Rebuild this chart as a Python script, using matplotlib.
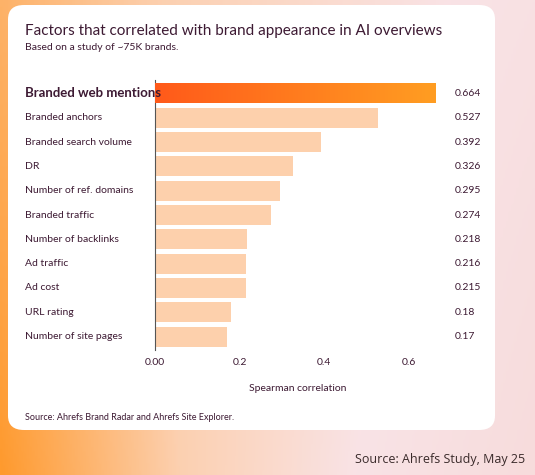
import numpy as np
import matplotlib
matplotlib.use("Agg")
import matplotlib.pyplot as plt
from matplotlib.patches import FancyBboxPatch
from matplotlib.colors import LinearSegmentedColormap

factors = ["Branded web mentions", "Branded anchors", "Branded search volume", "DR",
           "Number of ref. domains", "Branded traffic", "Number of backlinks",
           "Ad traffic", "Ad cost", "URL rating", "Number of site pages"]
values = [0.664, 0.527, 0.392, 0.326, 0.295, 0.274, 0.218, 0.216, 0.215, 0.18, 0.17]
value_labels = ["0.664", "0.527", "0.392", "0.326", "0.295", "0.274", "0.218",
                "0.216", "0.215", "0.18", "0.17"]
ticks = [0.0, 0.2, 0.4, 0.6]
tick_labels = ["0.00", "0.2", "0.4", "0.6"]

W, H = 535, 475
fig = plt.figure(figsize=(W / 100, H / 100), dpi=100)
plt.rcParams["font.family"] = ["Lato", "DejaVu Sans"]
text_col = "#3d1a33"

# background gradient + white card
bg = fig.add_axes([0, 0, 1, 1], zorder=-1)
bg.set_axis_off()
xx, yy = np.meshgrid(np.linspace(0, 1, 200), np.linspace(0, 1, 200))
t = np.clip(0.55 * xx + 0.45 * (1 - yy) * 0.3 + 0.35 * xx * yy, 0, 1)
bg_cmap = LinearSegmentedColormap.from_list("bg", ["#ff9a2e", "#fcd0b0", "#f9e3e6", "#f7dcdc"])
bg.imshow(t, cmap=bg_cmap, extent=[0, 1, 0, 1], aspect="auto", origin="upper")
bg.set_xlim(0, 1); bg.set_ylim(0, 1)
card = FancyBboxPatch((8 / W, 1 - 430 / H), 487 / W, 425 / H,
                      boxstyle="round,pad=0,rounding_size=0.03",
                      transform=bg.transAxes, fc="white", ec="none", zorder=5)
bg.add_patch(card)

fig.text(25 / W, 1 - 31 / H, "Factors that correlated with brand appearance in AI overviews",
         fontsize=11, color=text_col, va="center")
fig.text(25 / W, 1 - 48 / H, "Based on a study of ~75K brands.", fontsize=7.5, color=text_col, va="center")

ax = fig.add_axes([155 / W, 1 - 350 / H, 285 / W, 270 / H])
ax.patch.set_alpha(0)
y = np.arange(len(factors))
bars = ax.barh(y, values, height=0.82, color="#fdd0ac", zorder=2)
ax.set_xlim(0, 0.674)
for s in ["top", "right", "bottom"]:
    ax.spines[s].set_visible(False)
ax.spines["left"].set_color("#555555")
ax.set_yticks([])
ax.set_xticks(ticks)
ax.set_xticklabels(tick_labels, fontsize=7.5, color=text_col)
ax.tick_params(axis="x", length=0, pad=6)
ax.set_xlabel("Spearman correlation", fontsize=7.5, color=text_col, labelpad=12)

# gradient on the top bar
top = bars[0]
top.set_facecolor("none")
grad_cmap = LinearSegmentedColormap.from_list("g", ["#ff5a1a", "#ff9d22"])
im = ax.imshow(np.linspace(0, 1, 100)[None, :], cmap=grad_cmap, aspect="auto",
               extent=[0, values[0], 0.41, -0.41], zorder=3)
im.set_clip_path(top)
ax.set_ylim(len(factors) - 0.45, -0.55)

for i, (f, lab) in enumerate(zip(factors, value_labels)):
    fy = fig.transFigure.inverted().transform(ax.transData.transform((0, i)))[1]
    fig.text(25 / W, fy, f, fontsize=9.5 if i == 0 else 7.5, fontweight="bold" if i == 0 else "normal",
             color=text_col, va="center")
    fig.text(455 / W, fy, lab, fontsize=7.5, color=text_col, va="center")

fig.text(25 / W, 1 - 418 / H, "Source: Ahrefs Brand Radar and Ahrefs Site Explorer.",
         fontsize=6.5, color=text_col, va="center")
fig.text(525 / W, 1 - 460 / H, "Source: Ahrefs Study, May 25", fontsize=9, color="#3a2a2a",
         ha="right", va="center", family=["Open Sans", "DejaVu Sans"])

fig.savefig("out.png", dpi=100)
